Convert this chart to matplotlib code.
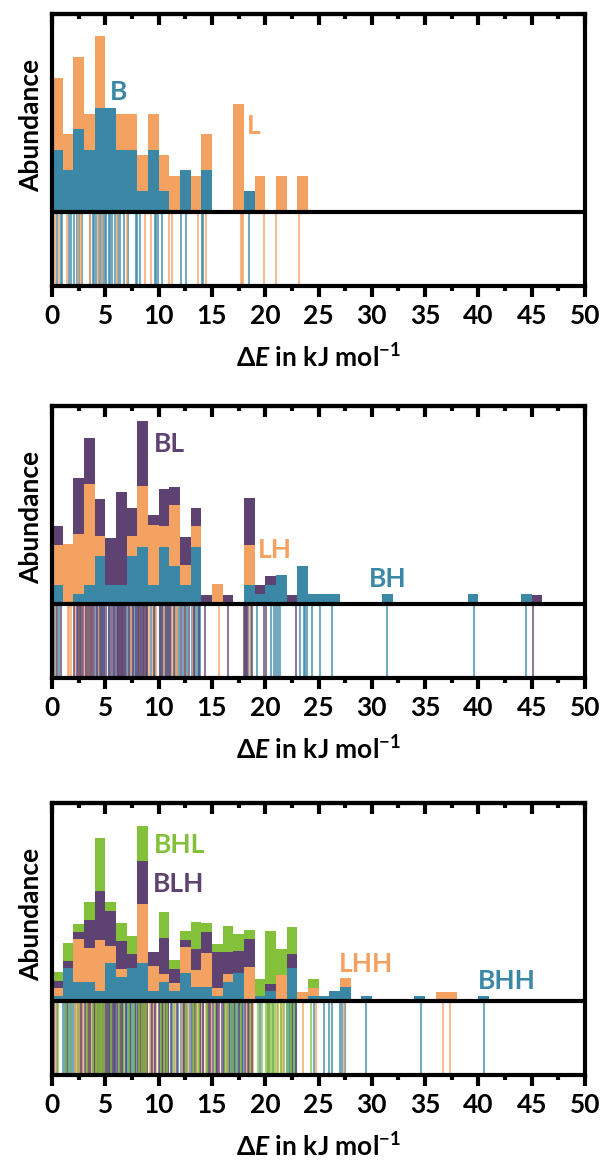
import numpy as np
import matplotlib
matplotlib.use("Agg")
import matplotlib.pyplot as plt
from matplotlib.ticker import MultipleLocator

plt.rcParams['font.family'] = ['Lato', 'DejaVu Sans']
plt.rcParams['font.weight'] = 'bold'
plt.rcParams['mathtext.fontset'] = 'custom'
plt.rcParams['mathtext.rm'] = 'Lato:bold'
plt.rcParams['mathtext.it'] = 'Lato:bold:italic'
plt.rcParams['mathtext.bf'] = 'Lato:bold'

# energies (kJ/mol) of the individual structures, one list per family
# panel 1
e_B = [0.45, 0.8, 0.92, 1.6, 1.8, 2.05, 2.3, 2.55, 2.8, 3.55, 3.8, 3.95,
       4.1, 4.45, 4.6, 4.8, 4.95, 5.1, 5.3, 5.45, 5.6, 5.9, 6.2, 6.4, 6.75,
       7.15, 7.85, 7.95, 8.25, 9.7, 9.8, 9.9, 10.3, 12.1, 12.6, 14.05, 14.2,
       18.5]
e_L = [0.3, 0.7, 1.4, 2.4, 2.7, 3.6, 4.35, 4.7, 6.05, 7.05, 8.7, 9.3, 10.95,
       11.3, 13.7, 14.4, 17.75, 17.85, 17.95, 19.9, 21.05, 23.2]

# panel 2
e_BH = [0.3, 0.65, 2.5, 3.2, 3.7, 4.1, 4.3, 4.55, 4.7, 4.9, 5.3, 5.8, 6.2,
        6.6, 7.1, 7.3, 7.5, 7.7, 7.9, 8.1, 8.3, 8.45, 8.6, 8.8, 8.95, 9.3,
        9.7, 10.1, 10.25, 10.4, 10.6, 10.8, 10.95, 11.2, 11.5, 11.7, 11.9,
        12.3, 12.7, 13.1, 13.3, 13.45, 13.6, 13.75, 13.9, 18.4, 18.7, 19.26,
        20.5, 20.8, 21.0, 21.2, 21.4, 23.3, 23.6, 23.7, 23.96, 24.4, 25.1,
        26.3, 31.4, 39.6, 44.5]
e_LH = [0.1, 0.35, 1.5, 1.6, 1.75, 2.2, 2.5, 2.85, 3.1, 3.3, 3.5, 3.65, 3.85,
        4.4, 7.4, 8.2, 8.5, 8.75, 9.1, 9.45, 9.8, 10.5, 11.3, 11.6, 11.75,
        12.5, 13.2, 15.7, 18.2, 18.55]
e_BL = [0.5, 0.8, 2.1, 2.3, 2.45, 2.6, 2.75, 2.9, 3.15, 3.4, 3.55, 3.75, 3.9,
        4.2, 4.5, 4.65, 4.85, 5.1, 5.35, 5.5, 5.7, 5.9, 6.05, 6.15, 6.25,
        6.35, 6.45, 6.55, 6.65, 6.75, 6.85, 6.95, 7.2, 7.6, 7.85, 8.05, 8.2,
        8.35, 8.5, 8.65, 8.8, 8.9, 9.55, 10.15, 10.35, 10.7, 10.9, 11.1,
        11.45, 12.1, 12.45, 12.85, 13.35, 13.8, 14.35, 16.5, 18.0, 18.1,
        18.2, 18.3, 18.8, 19.9, 20.1, 22.9, 45.15]

# panel 3
e_BHH = [0.5, 1.05, 1.2, 1.35, 1.5, 1.65, 1.8, 1.95, 2.2, 2.45, 2.65, 2.85,
         3.15, 3.35, 3.6, 3.85, 4.3, 4.8, 5.05, 5.15, 5.3, 5.45, 5.55, 5.7,
         5.8, 5.95, 6.15, 6.35, 6.55, 6.7, 6.9, 7.05, 7.2, 7.3, 7.45, 7.6,
         7.75, 7.9, 8.05, 8.15, 8.3, 8.4, 8.55, 8.7, 8.8, 8.95, 9.3, 9.65,
         10.1, 10.35, 10.6, 10.85, 11.3, 11.8, 12.1, 12.25, 12.4, 12.55,
         12.7, 12.9, 13.25, 13.55, 13.85, 14.2, 14.5, 14.75, 15.45, 16.15,
         16.4, 16.65, 16.9, 17.05, 17.2, 17.4, 17.55, 17.7, 17.9, 19.5,
         20.35, 20.75, 22.05, 22.2, 22.35, 22.5, 22.6, 22.75, 22.9, 24.6,
         25.5, 26.0, 26.3, 27.0, 27.2, 27.45, 29.5, 34.6, 40.5]
e_LHH = [0.4, 2.15, 2.35, 2.5, 2.7, 2.9, 3.2, 3.45, 3.7, 3.95, 4.1, 4.3, 4.45,
         4.6, 4.75, 4.9, 5.2, 5.6, 6.5, 8.05, 8.2, 8.35, 8.5, 8.6, 8.75, 8.9,
         9.2, 9.5, 9.8, 10.6, 11.5, 12.2, 12.5, 12.8, 13.3, 13.7, 14.1, 14.4,
         14.65, 14.9, 15.6, 16.4, 18.2, 18.45, 18.65, 18.9, 21.1, 21.45, 21.7,
         23.5, 24.77, 27.4, 36.7, 37.3]
e_BLH = [0.2, 1.45, 2.7, 3.1, 3.4, 3.6, 3.9, 4.05, 4.2, 4.35, 4.5, 4.65, 4.8,
         4.95, 5.15, 5.35, 5.55, 5.75, 5.95, 6.1, 6.4, 6.6, 6.9, 7.35, 7.8,
         8.1, 8.3, 8.45, 8.55, 8.7, 8.95, 9.4, 9.7, 10.05, 10.3, 10.45, 10.65,
         10.9, 11.2, 11.7, 12.4, 13.1, 13.45, 13.9, 14.2, 14.6, 14.8, 15.1,
         15.35, 15.5, 15.7, 15.9, 16.1, 16.6, 16.9, 17.15, 17.5, 17.85, 18.1,
         18.35, 18.5, 18.8, 20.3, 22.5, 22.85]
e_BHL = [0.6, 1.3, 1.7, 2.4, 3.3, 3.8, 4.1, 4.25, 4.4, 4.55, 4.7, 4.85, 5.5,
         6.3, 6.8, 7.2, 7.7, 8.15, 8.4, 8.6, 8.85, 10.2, 10.5, 10.8, 11.4,
         12.6, 13.2, 13.5, 13.8, 14.5, 15.3, 16.2, 16.5, 16.85, 17.3, 17.7,
         18.6, 19.3, 19.7, 20.1, 20.25, 20.4, 20.55, 20.7, 20.9, 21.2, 21.5,
         21.8, 22.15, 22.4, 22.7, 24.3]

teal = '#3a87a6'
orange = '#f4a261'
purple = '#5e4372'
green = '#84c13a'

panels = [
    dict(series=[e_B, e_L], colors=[teal, orange], bottom=0.7553, head=1.126,
         labels=[('B', teal, 0.124, 0.713), ('L', orange, 0.379, 0.588)]),
    dict(series=[e_BH, e_LH, e_BL], colors=[teal, orange, purple],
         bottom=0.4200, head=1.084,
         labels=[('BL', purple, 0.221, 0.859), ('LH', orange, 0.418, 0.470),
                 ('BH', teal, 0.629, 0.363)]),
    dict(series=[e_BHH, e_LHH, e_BLH, e_BHL],
         colors=[teal, orange, purple, green], bottom=0.0804, head=1.13,
         labels=[('BHL', green, 0.240, 0.846), ('BLH', purple, 0.238, 0.702),
                 ('LHH', orange, 0.589, 0.408), ('BHH', teal, 0.854, 0.346)]),
]

bins = np.arange(0, 51, 1)
fs = 19
lw = 3

fig = plt.figure(figsize=(6.04, 11.69), dpi=100)
for p in panels:
    ax = fig.add_axes([0.0861, p['bottom'], 0.8825, 0.2327])
    stack = np.zeros(len(bins) - 1)
    for vals, c in zip(p['series'], p['colors']):
        counts, _ = np.histogram(vals, bins=bins)
        h = counts / len(vals)
        ax.bar(bins[:-1], h, width=1, align='edge', bottom=stack, color=c,
               linewidth=0)
        stack = stack + h
    top = stack.max() * p['head']
    low = -top * 0.374
    for vals, c in zip(p['series'], p['colors']):
        ax.vlines(vals, low, 0, color=c, lw=1.5, alpha=0.7)
    ax.axhline(0, color='k', lw=lw)
    ax.set_xlim(0, 50)
    ax.set_ylim(low, top)
    ax.set_yticks([])
    for s in ax.spines.values():
        s.set_linewidth(lw)
    ax.xaxis.set_major_locator(MultipleLocator(5))
    ax.xaxis.set_minor_locator(MultipleLocator(2.5))
    ax.tick_params(axis='x', which='major', direction='out', length=8,
                   width=3, labelsize=fs, pad=5)
    ax.tick_params(axis='x', which='minor', direction='out', length=3.5,
                   width=3)
    sec = ax.secondary_xaxis('top')
    sec.xaxis.set_major_locator(MultipleLocator(5))
    sec.xaxis.set_minor_locator(MultipleLocator(2.5))
    sec.tick_params(axis='x', which='major', direction='in', length=8,
                    width=3, labeltop=False)
    sec.tick_params(axis='x', which='minor', direction='in', length=3.5,
                    width=3)
    sec.spines['top'].set_linewidth(lw)
    ax.set_xlabel(r'$\Delta\mathit{E}$ in kJ mol$^{-1}$', fontsize=fs,
                  fontweight='bold')
    ax.xaxis.set_label_coords(0.5, -0.261)
    ax.xaxis.label.set_va('center')
    ax.set_ylabel('Abundance', fontsize=fs, fontweight='bold')
    ax.yaxis.set_label_coords(-0.039, 0.59)
    ax.yaxis.label.set_va('center')
    for txt, c, x, y in p['labels']:
        ax.text(x, y, txt, color=c, fontsize=fs, fontweight='bold',
                ha='center', va='center', transform=ax.transAxes)

fig.savefig('out.png', dpi=100)
